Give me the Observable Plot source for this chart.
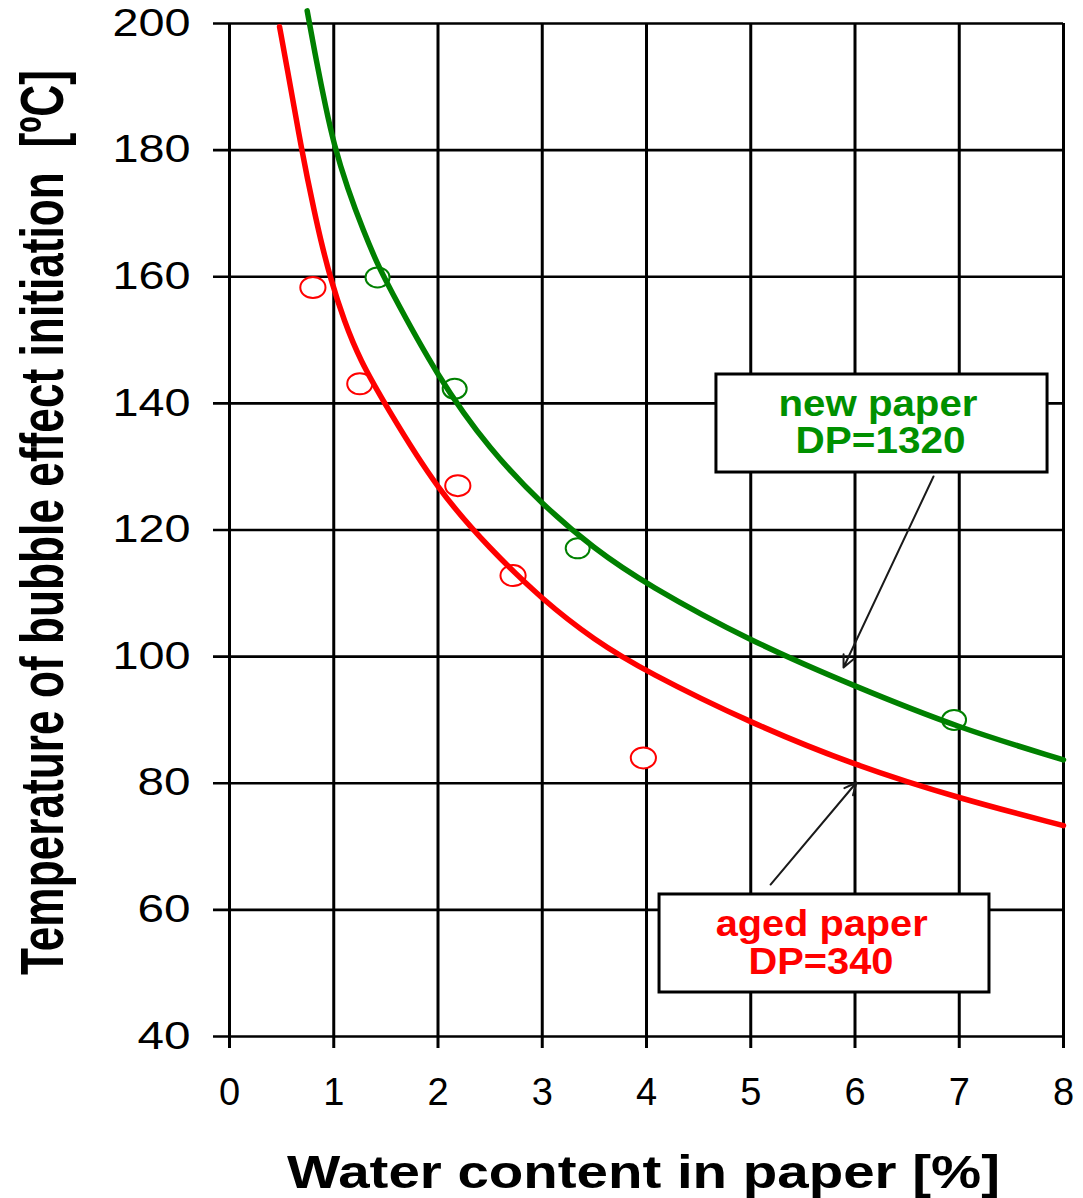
<!DOCTYPE html>
<html>
<head>
<meta charset="utf-8">
<script src="https://cdn.jsdelivr.net/npm/d3@7"></script>
<script src="https://cdn.jsdelivr.net/npm/@observablehq/plot@0.6"></script>
<style>
  html, body { margin: 0; padding: 0; background: white; }
</style>
</head>
<body>
<div id="chart"></div>
<script>
// ---- data ----
const xTicks = [0, 1, 2, 3, 4, 5, 6, 7, 8];
const yTicks = [40, 60, 80, 100, 120, 140, 160, 180, 200];

// aged paper DP=340 (red) measurements
const agedX = [0.80, 1.25, 2.19, 2.72, 3.97];
const agedY = [158.3, 143.1, 127.0, 112.8, 84.0];
// aged paper fitted curve
const agedCurveX = [0.48, 0.55, 0.62, 0.68, 0.75, 0.81, 0.87, 0.97, 1.1, 1.25, 1.5, 2.0, 2.5, 3.0, 3.5, 4.0, 5.0, 6.0, 7.0, 8.0];
const agedCurveY = [199.5, 193.2, 186.8, 181.2, 175.3, 170.6, 166.1, 159.6, 153.0, 146.9, 139.6, 126.2, 117, 109, 102.6, 97.6, 89.5, 82.8, 77.6, 73.3];

// new paper DP=1320 (green) measurements
const newX = [1.42, 2.16, 3.34, 6.95];
const newY = [159.9, 142.3, 117.1, 90.0];
// new paper fitted curve
const newCurveX = [0.745, 0.84, 0.92, 1.0, 1.13, 1.29, 1.42, 1.5, 2.0, 2.5, 3.0, 3.5, 4.0, 5.0, 6.0, 7.0, 8.0];
const newCurveY = [202, 193.5, 187, 181, 174, 167, 162, 159.3, 144, 132.6, 124.0, 117.0, 111.4, 102.4, 95.3, 88.7, 83.7];

// annotation boxes (data coordinates)
const boxX1 = [4.671, 4.125];
const boxX2 = [7.847, 7.29];
const boxY1 = [144.56, 62.43];
const boxY2 = [129.08, 46.95];

// annotation text lines
const noteText = ["new paper", "DP=1320", "aged paper", "DP=340"];
const noteX = [6.22, 6.245, 5.68, 5.674];
const noteY = [138.07, 132.23, 55.92, 49.92];
const noteColor = ["#009000", "#009000", "#ff0000", "#ff0000"];

// arrows (data coordinates)
const arrowX1 = [6.753, 5.19];
const arrowY1 = [128.45, 64.0];
const arrowX2 = [5.89, 6.014];
const arrowY2 = [98.28, 80.12];

const xLabel = "Water content in paper [%]";
const yLabel = "Temperature of bubble effect initiation  [ºC]";

// ---- build tables ----
const zip = (xs, ys) => xs.map((x, i) => ({x, y: ys[i]}));
const agedPts = zip(agedX, agedY);
const newPts = zip(newX, newY);
const agedCurve = zip(agedCurveX, agedCurveY);
const newCurve = zip(newCurveX, newCurveY);
const boxes = boxX1.map((d, i) => ({x1: d, x2: boxX2[i], y1: boxY1[i], y2: boxY2[i]}));
const notes = noteText.map((t, i) => ({text: t, x: noteX[i], y: noteY[i], c: noteColor[i]}));
const arrows = arrowX1.map((d, i) => ({x1: d, y1: arrowY1[i], x2: arrowX2[i], y2: arrowY2[i]}));

const ellipse = {
  draw(context, size) {
    const r = Math.sqrt(size / Math.PI);
    const rx = r * 1.2, ry = r, k = 0.5523;
    context.moveTo(rx, 0);
    context.bezierCurveTo(rx, k * ry, k * rx, ry, 0, ry);
    context.bezierCurveTo(-k * rx, ry, -rx, k * ry, -rx, 0);
    context.bezierCurveTo(-rx, -k * ry, -k * rx, -ry, 0, -ry);
    context.bezierCurveTo(k * rx, -ry, rx, -k * ry, rx, 0);
    context.closePath();
  }
};

const font = "'Liberation Sans', Arial, sans-serif";

const svg = Plot.plot({
  width: 1083,
  height: 1198,
  marginLeft: 229,
  marginRight: 20,
  marginTop: 23,
  marginBottom: 162,
  style: {background: "white", fontFamily: font, color: "black"},
  x: {domain: [0, 8], ticks: xTicks},
  y: {domain: [40, 200], ticks: yTicks},
  marks: [
    Plot.ruleY(yTicks, {y: d => d, x1: 0, x2: 8, stroke: "black", strokeWidth: 2.6, insetLeft: -16}),
    Plot.ruleX(xTicks, {x: d => d, y1: 200, y2: 40, stroke: "black", strokeWidth: 3, insetBottom: -12}),
    Plot.axisX({ticks: xTicks, tickSize: 0, tickPadding: 42, fontSize: 38, label: null, tickFormat: d => String(d)}),
    Plot.axisY({ticks: yTicks, tickSize: 0, tickPadding: 39, fontSize: 38, label: null, tickFormat: d => String(d)}),
    Plot.rect(boxes, {x1: "x1", x2: "x2", y1: "y1", y2: "y2", fill: "white", stroke: "black", strokeWidth: 3}),
    Plot.dot(agedPts, {x: "x", y: "y", r: 10.5, symbol: ellipse, stroke: "#ff0000", strokeWidth: 2, fill: "white"}),
    Plot.dot(newPts, {x: "x", y: "y", r: 10, symbol: ellipse, stroke: "#008000", strokeWidth: 2, fill: "white"}),
    Plot.line(agedCurve, {x: "x", y: "y", stroke: "#ff0000", strokeWidth: 5.5, curve: "basis"}),
    Plot.line(newCurve, {x: "x", y: "y", stroke: "#008000", strokeWidth: 5.5, curve: "basis"}),
    Plot.arrow(arrows, {x1: "x1", y1: "y1", x2: "x2", y2: "y2", stroke: "#1a1a1a", strokeWidth: 2, headLength: 10, headAngle: 50}),
    Plot.text(notes, {x: "x", y: "y", text: "text", fill: "c", fontSize: 36, fontWeight: "bold", textAnchor: "middle", lineAnchor: "bottom"}),
    Plot.text([xLabel], {text: d => d, frameAnchor: "bottom", dy: 151, dx: -3, lineAnchor: "bottom", textAnchor: "middle", fontSize: 47, fontWeight: "bold", fill: "black"}),
    Plot.text([yLabel], {text: d => d, frameAnchor: "left", rotate: -90, dx: -167, dy: -7.5, lineAnchor: "bottom", textAnchor: "middle", fontSize: 44, fontWeight: "bold", fill: "black"})
  ]
});

// stretch/compress some texts to the widths seen in the reference
const lengths = {
  "200": 78, "180": 78, "160": 78, "140": 78, "120": 78, "100": 78,
  "80": 53, "60": 53, "40": 53,
  "new paper": 199, "DP=1320": 170, "aged paper": 212, "DP=340": 145
};
lengths[xLabel] = 713;
lengths[yLabel] = 905;
d3.select(svg).selectAll("text").each(function() {
  const t = this.textContent;
  if (lengths[t] !== undefined) {
    this.setAttribute("textLength", lengths[t]);
    this.setAttribute("lengthAdjust", "spacingAndGlyphs");
  }
  if (t === yLabel) {
    const tr = this.getAttribute("transform") || "";
    this.setAttribute("transform", tr + " scale(1,1.4)");
  }
});
d3.select(svg).selectAll("text").filter(function() { return /^[0-9]+$/.test(this.textContent); }).attr("font-weight", "normal");

document.getElementById("chart").appendChild(svg);
</script>
</body>
</html>
